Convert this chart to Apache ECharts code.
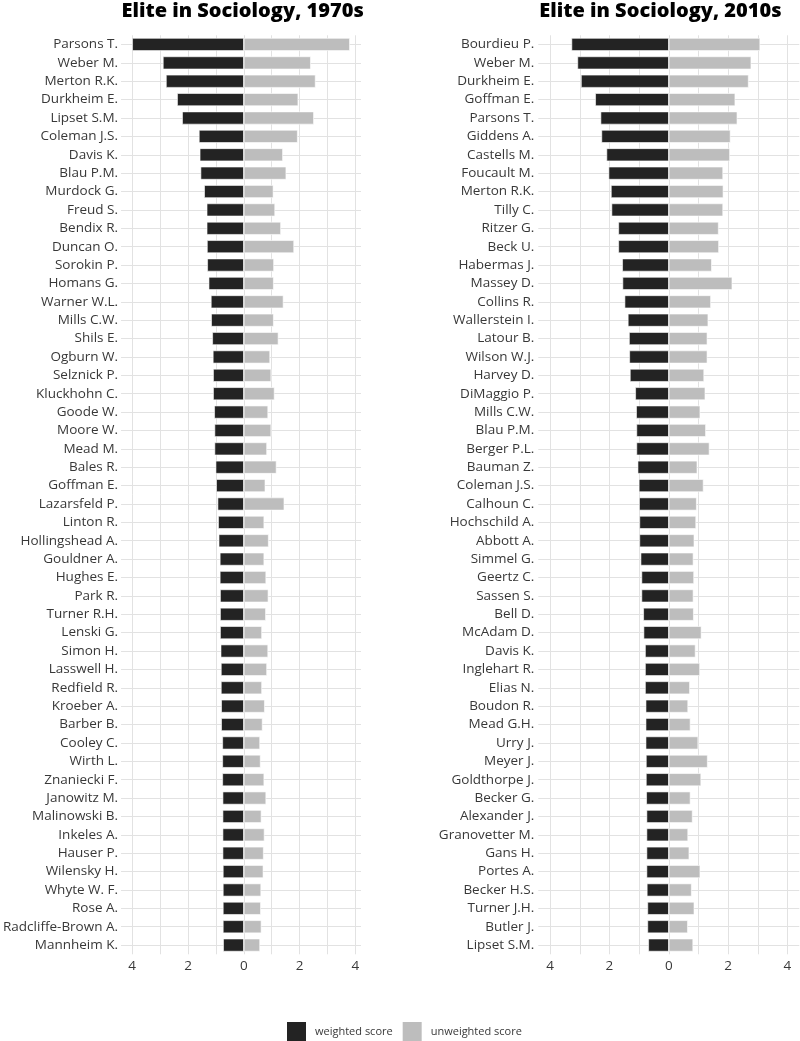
<!DOCTYPE html>
<html>
<head>
<meta charset="utf-8">
<script src="https://cdn.jsdelivr.net/npm/echarts@6/dist/echarts.min.js"></script>
<style>
html,body{margin:0;padding:0;background:#fff;}
#chart{width:800px;height:1041px;}
</style>
</head>
<body>
<div id="chart"></div>
<script>
// ---- Data ----
const titles = ['Elite in Sociology, 1970s', 'Elite in Sociology, 2010s'];
const seriesNames = ['weighted score', 'unweighted score'];
const tickValues = [-4, -2, 0, 2, 4];
const gridValues = [-4, -3, -2, -1, 0, 1, 2, 3, 4];

const names1970 = ['Parsons T.','Weber M.','Merton R.K.','Durkheim E.','Lipset S.M.','Coleman J.S.','Davis K.','Blau P.M.','Murdock G.','Freud S.',
  'Bendix R.','Duncan O.','Sorokin P.','Homans G.','Warner W.L.','Mills C.W.','Shils E.','Ogburn W.','Selznick P.','Kluckhohn C.',
  'Goode W.','Moore W.','Mead M.','Bales R.','Goffman E.','Lazarsfeld P.','Linton R.','Hollingshead A.','Gouldner A.','Hughes E.',
  'Park R.','Turner R.H.','Lenski G.','Simon H.','Lasswell H.','Redfield R.','Kroeber A.','Barber B.','Cooley C.','Wirth L.',
  'Znaniecki F.','Janowitz M.','Malinowski B.','Inkeles A.','Hauser P.','Wilensky H.','Whyte W. F.','Rose A.','Radcliffe-Brown A.','Mannheim K.'];
const weighted1970 = [4.00,2.90,2.79,2.39,2.21,1.61,1.58,1.55,1.42,1.33,
  1.33,1.32,1.31,1.26,1.18,1.17,1.13,1.11,1.10,1.10,
  1.06,1.05,1.05,1.01,0.99,0.94,0.92,0.90,0.86,0.86,
  0.85,0.85,0.85,0.83,0.82,0.82,0.81,0.81,0.77,0.77,
  0.77,0.76,0.76,0.76,0.76,0.75,0.75,0.75,0.75,0.74];
const unweighted1970 = [3.80,2.40,2.57,1.95,2.51,1.93,1.40,1.52,1.06,1.12,
  1.33,1.80,1.08,1.07,1.42,1.07,1.24,0.94,0.98,1.10,
  0.87,0.98,0.83,1.17,0.77,1.45,0.73,0.89,0.73,0.80,
  0.88,0.79,0.65,0.87,0.83,0.65,0.75,0.67,0.58,0.60,
  0.73,0.80,0.63,0.74,0.71,0.70,0.62,0.61,0.63,0.58];

const names2010 = ['Bourdieu P.','Weber M.','Durkheim E.','Goffman E.','Parsons T.','Giddens A.','Castells M.','Foucault M.','Merton R.K.','Tilly C.',
  'Ritzer G.','Beck U.','Habermas J.','Massey D.','Collins R.','Wallerstein I.','Latour B.','Wilson W.J.','Harvey D.','DiMaggio P.',
  'Mills C.W.','Blau P.M.','Berger P.L.','Bauman Z.','Coleman J.S.','Calhoun C.','Hochschild A.','Abbott A.','Simmel G.','Geertz C.',
  'Sassen S.','Bell D.','McAdam D.','Davis K.','Inglehart R.','Elias N.','Boudon R.','Mead G.H.','Urry J.','Meyer J.',
  'Goldthorpe J.','Becker G.','Alexander J.','Granovetter M.','Gans H.','Portes A.','Becker H.S.','Turner J.H.','Butler J.','Lipset S.M.'];
const weighted2010 = [3.28,3.08,2.96,2.48,2.30,2.27,2.10,2.03,1.95,1.93,
  1.70,1.70,1.57,1.56,1.49,1.38,1.34,1.33,1.31,1.13,
  1.10,1.09,1.09,1.05,1.01,1.00,0.99,0.99,0.95,0.92,
  0.92,0.86,0.85,0.80,0.80,0.80,0.78,0.78,0.78,0.77,
  0.77,0.76,0.75,0.75,0.75,0.75,0.74,0.72,0.72,0.69];
const unweighted2010 = [3.08,2.78,2.69,2.24,2.31,2.08,2.06,1.83,1.84,1.83,
  1.68,1.69,1.45,2.14,1.42,1.33,1.30,1.30,1.19,1.23,
  1.06,1.25,1.37,0.96,1.17,0.94,0.92,0.86,0.83,0.85,
  0.83,0.84,1.10,0.90,1.05,0.71,0.65,0.73,0.99,1.31,
  1.09,0.73,0.80,0.65,0.69,1.06,0.77,0.86,0.64,0.82];

// ---- Styling ----
const DARK = '#232323';
const LIGHT = '#bdbdbd';
const GRID = '#e2e2e2';
const TEXT = '#383838';
const FONT = 'Open Sans';

const panels = [
  {names: names1970, w: weighted1970, u: unweighted1970, left: 120.5, width: 240.5, min: -4.4, max: 4.2, labelMargin: 3},
  {names: names2010, w: weighted2010, u: unweighted2010, left: 538.3, width: 261, min: -4.4, max: 4.4, labelMargin: 4}
];

const grids = [], xAxes = [], yAxes = [], series = [], titleOpts = [];
panels.forEach((p, i) => {
  grids.push({left: p.left, width: p.width, top: 35.3, height: 919, containLabel: false});
  titleOpts.push({
    text: titles[i], left: p.left + 1, top: 1, padding: 0,
    textStyle: {fontFamily: FONT, fontWeight: 800, fontSize: 20, color: '#000'}
  });
  xAxes.push({
    type: 'value', gridIndex: i, min: p.min, max: p.max,
    axisLine: {show: false}, axisTick: {show: false}, splitLine: {show: false},
    axisLabel: {
      customValues: tickValues, margin: 5,
      formatter: v => String(Math.abs(v)),
      color: TEXT, fontFamily: FONT, fontSize: 13.5
    }
  });
  yAxes.push({
    type: 'category', gridIndex: i, data: p.names, inverse: true,
    axisLine: {show: false}, axisTick: {show: false}, splitLine: {show: false},
    axisLabel: {margin: p.labelMargin, color: TEXT, fontFamily: FONT, fontSize: 13.5, interval: 0}
  });
  series.push({
    name: seriesNames[0], type: 'bar', xAxisIndex: i, yAxisIndex: i,
    data: p.w.map(v => -v), barWidth: '70%', barGap: '-100%', z: 3,
    itemStyle: {color: DARK, borderColor: '#ffffff', borderWidth: 0.6},
    emphasis: {disabled: true}, silent: true,
    markLine: {
      z: 1, silent: true, symbol: 'none', label: {show: false},
      lineStyle: {color: GRID, width: 1, type: 'solid'},
      emphasis: {disabled: true},
      data: gridValues.map(v => ({xAxis: v})).concat(p.names.map(n => ({yAxis: n})))
    }
  });
  series.push({
    name: seriesNames[1], type: 'bar', xAxisIndex: i, yAxisIndex: i,
    data: p.u, barWidth: '70%', barGap: '-100%', z: 3,
    itemStyle: {color: LIGHT, borderColor: '#ffffff', borderWidth: 0.6},
    emphasis: {disabled: true}, silent: true
  });
});

const chart = echarts.init(document.getElementById('chart'), null, {renderer: 'canvas'});
chart.setOption({
  backgroundColor: '#ffffff',
  animation: false,
  title: titleOpts,
  legend: {
    data: seriesNames, left: 285, top: 1020, padding: 0, itemWidth: 21, itemHeight: 21, itemGap: 8,
    icon: 'rect',
    textStyle: {color: TEXT, fontFamily: FONT, fontSize: 11, padding: [0, 0, 0, 3]}
  },
  grid: grids, xAxis: xAxes, yAxis: yAxes, series: series
});
</script>
</body>
</html>
